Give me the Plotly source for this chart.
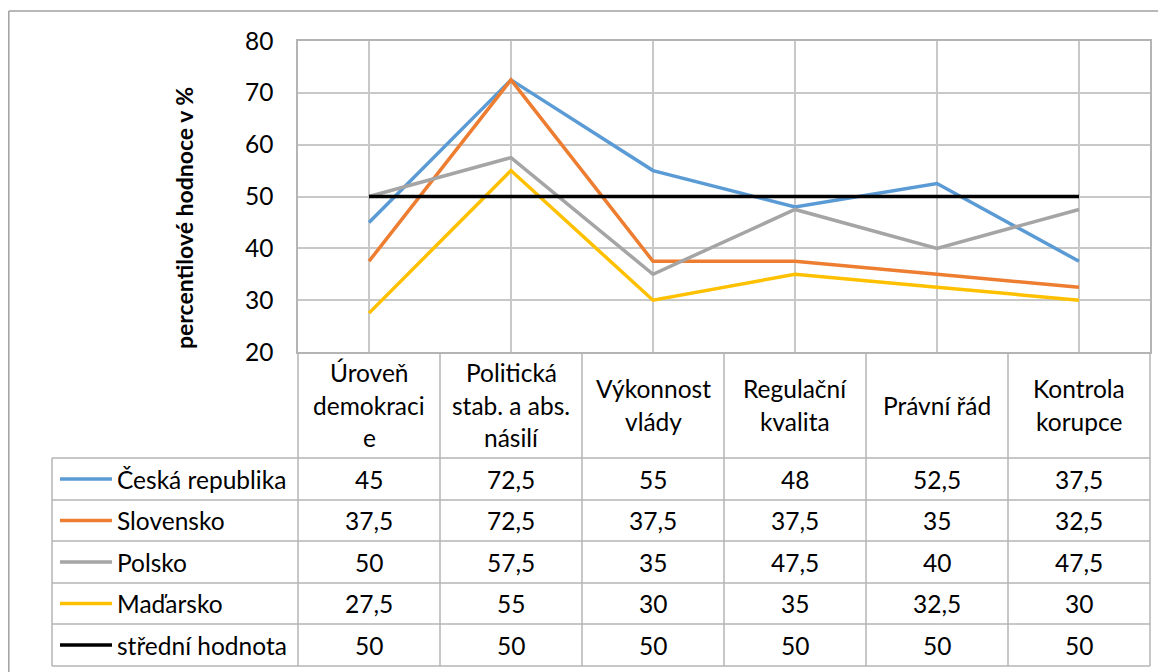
import plotly.graph_objects as go

# ---------------- data ----------------
categories = [
    ["Úroveň", "demokraci", "e"],
    ["Politická", "stab. a abs.", "násilí"],
    ["Výkonnost", "vlády"],
    ["Regulační", "kvalita"],
    ["Právní řád"],
    ["Kontrola", "korupce"],
]
series_names = ["Česká republika", "Slovensko", "Polsko", "Maďarsko", "střední hodnota"]
cz = [45, 72.5, 55, 48, 52.5, 37.5]
sk = [37.5, 72.5, 37.5, 37.5, 35, 32.5]
pl = [50, 57.5, 35, 47.5, 40, 47.5]
hu = [27.5, 55, 30, 35, 32.5, 30]
mean = [50, 50, 50, 50, 50, 50]
series_values = [cz, sk, pl, hu, mean]
colors = ["#5B9BD5", "#ED7D31", "#A5A5A5", "#FFC000", "#000000"]
y_title = "percentilové hodnoce v %"

# ---------------- layout geometry (page pixels) ----------------
OFF = 8                     # page body margin of the html page
W, H = 1166 - OFF, 672 - OFF
PL_L, PL_R, PL_T, PL_B = 298, 1150, 41, 352   # page pixels
FONT = "Lato"
FS = 24.5
GRID = "#C8C8C8"
TABLE = "#B4B4B4"

def px_x(px):
    return (px - PL_L) / (PL_R - PL_L)

def px_y(py):
    return (PL_B - py) / (PL_B - PL_T)

n = len(categories)
xs = list(range(n))

fig = go.Figure()
for name, vals, col in zip(series_names, series_values, colors):
    fig.add_trace(go.Scatter(x=xs, y=vals, mode="lines", name=name,
                             line=dict(color=col, width=3.5), showlegend=False))

shapes = []
annotations = []

# outer chart border (top and left edges visible)
shapes.append(dict(type="line", xref="paper", yref="paper",
                   x0=px_x(OFF + 0.8), x1=px_x(1166), y0=px_y(11), y1=px_y(11),
                   line=dict(color="#A0A0A0", width=1.5), layer="below"))
shapes.append(dict(type="line", xref="paper", yref="paper",
                   x0=px_x(OFF + 0.8), x1=px_x(OFF + 0.8), y0=px_y(11), y1=px_y(672),
                   line=dict(color="#A0A0A0", width=1.5), layer="below"))

row_lines = [458, 500, 541, 583, 624, 666]
for ry in row_lines:
    shapes.append(dict(type="line", xref="paper", yref="paper",
                       x0=px_x(52), x1=px_x(PL_R), y0=px_y(ry), y1=px_y(ry),
                       line=dict(color=TABLE, width=1.5)))
for i in range(n + 1):
    xp = i / n
    shapes.append(dict(type="line", xref="paper", yref="paper",
                       x0=xp, x1=xp, y0=px_y(PL_B), y1=px_y(666),
                       line=dict(color=TABLE, width=1.5)))
shapes.append(dict(type="line", xref="paper", yref="paper",
                   x0=px_x(52), x1=px_x(52), y0=px_y(458), y1=px_y(666),
                   line=dict(color=TABLE, width=1.5)))

# header labels
LINE_H = 33
head_c = (PL_B + row_lines[0]) / 2
for i, lines in enumerate(categories):
    k = len(lines)
    for j, t in enumerate(lines):
        cy = head_c + (j - (k - 1) / 2) * LINE_H
        annotations.append(dict(x=i, xref="x", y=px_y(cy), yref="paper",
                                text=t, showarrow=False,
                                xanchor="center", yanchor="middle",
                                font=dict(family=FONT, size=FS, color="#000")))

def fmt(v):
    return f"{v:g}".replace(".", ",")

for r, (name, vals, col) in enumerate(zip(series_names, series_values, colors)):
    cy = (row_lines[r] + row_lines[r + 1]) / 2
    for i, v in enumerate(vals):
        annotations.append(dict(x=i, xref="x", y=px_y(cy), yref="paper",
                                text=fmt(v), showarrow=False,
                                xanchor="center", yanchor="middle",
                                font=dict(family=FONT, size=FS, color="#000")))
    shapes.append(dict(type="line", xref="paper", yref="paper",
                       x0=px_x(60), x1=px_x(112), y0=px_y(cy), y1=px_y(cy),
                       line=dict(color=col, width=3.5)))
    annotations.append(dict(x=px_x(115), xref="paper", y=px_y(cy), yref="paper",
                            text=name, showarrow=False,
                            xanchor="left", yanchor="middle",
                            font=dict(family=FONT, size=FS, color="#000")))

annotations.append(dict(x=px_x(184), xref="paper", y=px_y(218), yref="paper",
                        text="<b>" + y_title + "</b>", textangle=-90,
                        showarrow=False, xanchor="center", yanchor="middle",
                        font=dict(family=FONT, size=23, color="#000")))

fig.update_layout(
    width=W, height=H,
    margin=dict(l=PL_L - OFF, r=W + OFF - PL_R, t=PL_T - OFF, b=H + OFF - PL_B),
    paper_bgcolor="white", plot_bgcolor="white",
    shapes=shapes, annotations=annotations,
    showlegend=False,
    xaxis=dict(range=[-0.5, n - 0.5], tickvals=xs, showticklabels=False,
               showgrid=True, gridcolor=GRID, gridwidth=1.5, zeroline=False,
               showline=True, linecolor=TABLE, linewidth=1.5, mirror=True,
               ticks="", fixedrange=True),
    yaxis=dict(range=[20, 80], dtick=10, showgrid=True, gridcolor=GRID,
               gridwidth=1.5, zeroline=False, showline=True, linecolor=TABLE,
               linewidth=1.5, mirror=True, ticks="", ticklabelstandoff=18,
               tickfont=dict(family=FONT, size=FS, color="#000"),
               fixedrange=True),
)

fig.write_html("out.html")
